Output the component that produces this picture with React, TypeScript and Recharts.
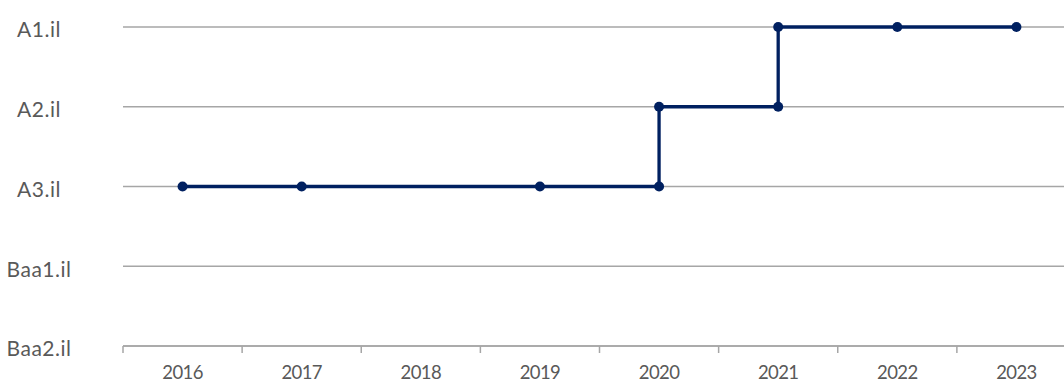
import { LineChart, Line, XAxis, YAxis, CartesianGrid } from "recharts";

// rating scale, lowest first (index + 1 is the numeric level)
const RATINGS = ["Baa2.il", "Baa1.il", "A3.il", "A2.il", "A1.il"];
const YEARS = [2016, 2017, 2018, 2019, 2020, 2021, 2022, 2023];

// rating history: each point is a year and a rating
const POINT_YEARS = [2016, 2017, 2019, 2020, 2020, 2021, 2021, 2022, 2023];
const POINT_RATINGS = ["A3.il", "A3.il", "A3.il", "A3.il", "A2.il", "A2.il", "A1.il", "A1.il", "A1.il"];

const data = POINT_YEARS.map((year, i) => ({
  year,
  level: RATINGS.indexOf(POINT_RATINGS[i]) + 1,
}));

const WIDTH = 1076;
const HEIGHT = 385;
const LEFT = 123;
const PLOT_W = WIDTH - LEFT;
const HALF_BAND = PLOT_W / YEARS.length / 2;

const AXIS_GRAY = "#a6a6a6";
const TEXT_GRAY = "#595959";
const NAVY = "#002060";
const FONT = "Lato, 'Open Sans', sans-serif";

// year label centred in its band, with a tick mark on the band's left edge
// eslint-disable-next-line @typescript-eslint/no-explicit-any
function YearTick({ x, y, payload }: any) {
  return (
    <g>
      <line x1={x - HALF_BAND} x2={x - HALF_BAND} y1={y - 8} y2={y - 1} stroke={AXIS_GRAY} strokeWidth={1.5} />
      <text
        x={x}
        y={y + 25}
        textAnchor="middle"
        fill={TEXT_GRAY}
        fontSize={18.5}
        letterSpacing={-0.6}
        fontFamily={FONT}
      >
        {payload.value}
      </text>
    </g>
  );
}

// eslint-disable-next-line @typescript-eslint/no-explicit-any
function RatingTick({ y, payload }: any) {
  return (
    <text
      x={39}
      y={y + 3}
      dy="0.35em"
      textAnchor="middle"
      fill={TEXT_GRAY}
      fontSize={21}
      letterSpacing={0.5}
      fontFamily={FONT}
    >
      {RATINGS[payload.value - 1]}
    </text>
  );
}

export default function App() {
  return (
    <div style={{ position: "absolute", left: 0, top: 0, width: 1064, height: HEIGHT, overflow: "hidden", background: "#fff" }}>
      <LineChart width={WIDTH} height={HEIGHT} data={data} margin={{ top: 27, right: 0, bottom: 0, left: 0 }}>
        <CartesianGrid horizontal vertical={false} stroke={AXIS_GRAY} strokeWidth={1.5} />
        <XAxis
          dataKey="year"
          type="number"
          domain={[YEARS[0] - 0.5, YEARS[YEARS.length - 1] + 0.5]}
          ticks={YEARS}
          interval={0}
          height={39}
          axisLine={{ stroke: AXIS_GRAY, strokeWidth: 1.5 }}
          tickLine={false}
          tick={<YearTick />}
        />
        <YAxis
          type="number"
          domain={[1, RATINGS.length]}
          ticks={RATINGS.map((_, i) => i + 1)}
          width={LEFT}
          axisLine={false}
          tickLine={false}
          tick={<RatingTick />}
        />
        <Line
          dataKey="level"
          type="linear"
          stroke={NAVY}
          strokeWidth={3.3}
          dot={{ r: 5, fill: NAVY, stroke: NAVY, strokeWidth: 0 }}
          isAnimationActive={false}
        />
      </LineChart>
    </div>
  );
}
